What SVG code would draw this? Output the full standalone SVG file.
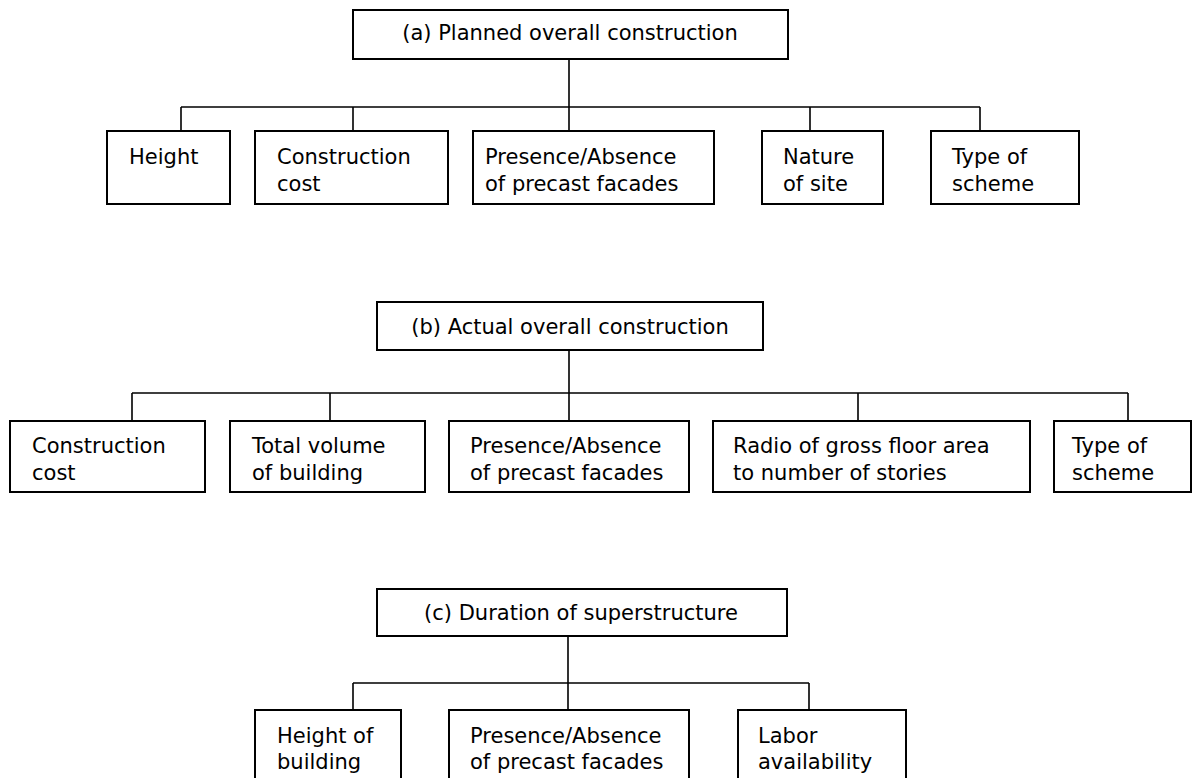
<svg xmlns="http://www.w3.org/2000/svg" width="1193" height="778" viewBox="0 0 1193 778">
<style>
.box{fill:#fff;stroke:#000;stroke-width:2}
.ln{fill:none;stroke:#000;stroke-width:1.6}
text{font-family:"DejaVu Sans","Liberation Sans",sans-serif;font-size:21px;fill:#000}
.t{text-anchor:middle}
</style>
<rect width="1193" height="778" fill="#fff"/>
<g id="connectors">
<path class="ln" d="M569 59V107M181 107H980M181 107V131M353 107V131M569 107V131M810 107V131M980 107V131"/>
<path class="ln" d="M569 350V393M132 393H1128M132 393V421M330 393V421M569 393V421M858 393V421M1128 393V421"/>
<path class="ln" d="M568 636V683M353 683H809M353 683V710M568 683V710M809 683V710"/>
</g>
<g id="a-root"><rect class="box" x="353" y="10" width="435" height="49"/><text class="t" x="570" y="40">(a) Planned overall construction</text></g>
<g id="a-height"><rect class="box" x="107" y="131" width="123" height="73"/><text x="129" y="164">Height</text></g>
<g id="a-cost"><rect class="box" x="255" y="131" width="193" height="73"/><text x="277" y="164">Construction</text><text x="277" y="191">cost</text></g>
<g id="a-precast"><rect class="box" x="473" y="131" width="241" height="73"/><text x="485" y="164">Presence/Absence</text><text x="485" y="191">of precast facades</text></g>
<g id="a-site"><rect class="box" x="762" y="131" width="121" height="73"/><text x="783" y="164">Nature</text><text x="783" y="191">of site</text></g>
<g id="a-scheme"><rect class="box" x="931" y="131" width="148" height="73"/><text x="952" y="164">Type of</text><text x="952" y="191">scheme</text></g>
<g id="b-root"><rect class="box" x="377" y="302" width="386" height="48"/><text class="t" x="570" y="334">(b) Actual overall construction</text></g>
<g id="b-cost"><rect class="box" x="10" y="421" width="195" height="71"/><text x="32" y="453">Construction</text><text x="32" y="480">cost</text></g>
<g id="b-volume"><rect class="box" x="230" y="421" width="195" height="71"/><text x="252" y="453">Total volume</text><text x="252" y="480">of building</text></g>
<g id="b-precast"><rect class="box" x="449" y="421" width="240" height="71"/><text x="470" y="453">Presence/Absence</text><text x="470" y="480">of precast facades</text></g>
<g id="b-ratio"><rect class="box" x="713" y="421" width="317" height="71"/><text x="733" y="453">Radio of gross floor area</text><text x="733" y="480">to number of stories</text></g>
<g id="b-scheme"><rect class="box" x="1054" y="421" width="137" height="71"/><text x="1072" y="453">Type of</text><text x="1072" y="480">scheme</text></g>
<g id="c-root"><rect class="box" x="377" y="589" width="410" height="47"/><text class="t" x="581" y="620">(c) Duration of superstructure</text></g>
<g id="c-height"><rect class="box" x="255" y="710" width="146" height="80"/><text x="277" y="743">Height of</text><text x="277" y="769">building</text></g>
<g id="c-precast"><rect class="box" x="449" y="710" width="240" height="80"/><text x="470" y="743">Presence/Absence</text><text x="470" y="769">of precast facades</text></g>
<g id="c-labor"><rect class="box" x="738" y="710" width="168" height="80"/><text x="758" y="743">Labor</text><text x="758" y="769">availability</text></g>
</svg>
